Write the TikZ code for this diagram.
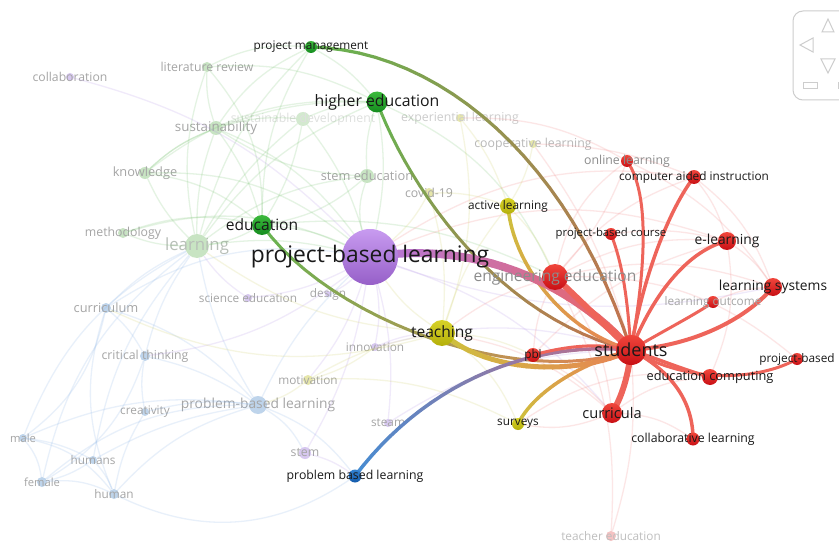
\documentclass[tikz,border=0pt]{standalone}
\usepackage{fontspec}
\setmainfont{Open Sans}
\usetikzlibrary{calc}
\definecolor{cRedL}{RGB}{240,70,60}\definecolor{cRedD}{RGB}{200,15,20}
\definecolor{cGrnL}{RGB}{60,185,60}\definecolor{cGrnD}{RGB}{20,140,30}
\definecolor{cYelL}{RGB}{215,210,40}\definecolor{cYelD}{RGB}{180,175,10}
\definecolor{cPurL}{RGB}{200,155,240}\definecolor{cPurD}{RGB}{150,95,200}
\definecolor{cBluL}{RGB}{50,130,210}\definecolor{cBluD}{RGB}{20,90,170}
\definecolor{eRed}{RGB}{238,100,90}\definecolor{eGrn}{RGB}{100,180,80}
\definecolor{eYel}{RGB}{205,195,60}\definecolor{eOrg}{RGB}{232,130,85}
\definecolor{eBrn}{RGB}{195,115,80}\definecolor{ePur}{RGB}{180,120,220}
\definecolor{eBlu}{RGB}{70,140,210}\definecolor{eMau}{RGB}{190,110,140}
\definecolor{fGn}{RGB}{200,228,195}\definecolor{fBn}{RGB}{190,212,235}
\definecolor{fPn}{RGB}{215,200,240}\definecolor{fYn}{RGB}{230,230,170}
\definecolor{fRn}{RGB}{245,195,195}
\definecolor{fGe}{RGB}{110,190,100}\definecolor{fBe}{RGB}{130,175,230}
\definecolor{fPe}{RGB}{175,140,230}\definecolor{fYe}{RGB}{205,205,90}
\definecolor{fRe}{RGB}{240,120,120}
\definecolor{txtD}{RGB}{25,25,25}\definecolor{txtF}{RGB}{165,165,165}
\definecolor{txtE}{RGB}{140,140,140}\definecolor{wid}{RGB}{205,205,205}
\tikzset{
  dot/.style={circle, inner sep=0pt, draw=none, minimum size=#1},
  L/.style={font=\fontsize{#1}{#1}\selectfont, text=txtD, inner sep=0pt},
  F/.style={font=\fontsize{#1}{#1}\selectfont, text=txtF, inner sep=0pt},
  faint/.style={line width=1.3, opacity=0.18},
  redge/.style={line width=#1, color=eRed, line cap=round},
  widg/.style={draw=wid, line width=1}
}
\newcommand\gradedge[7]{%
  \path (#1.center) .. controls #2 and #3 .. (#4.center)
    \foreach \gi [evaluate=\gi as \gt using \gi/24] in {0,...,24}{ node[coordinate,pos=\gt] (gp\gi) {} };
  \foreach \gi [evaluate=\gi as \gj using int(\gi+1), evaluate=\gi as \gp using int(100-100*\gi/23)] in {0,...,23}{%
    \draw[line width=#7, line cap=round, color=#5!\gp!#6] (gp\gi) -- (gp\gj);}%
}
\newcommand\fe[4]{\draw[faint,#3] (#1) to[bend left=#4] (#2);}
\begin{document}
\begin{tikzpicture}[x=1pt,y=-1pt]
\useasboundingbox (0,0) rectangle (839,543);
\fill[white] (0,0) rectangle (839,543);

% ---------- faded nodes ----------
\node[dot=8, fill=fPn, label={[F=12.2]center:collaboration}] (nColl) at (70,77) {};
\node[dot=10, fill=fGn, label={[F=12.3]center:literature review}] (nLR) at (207,67) {};
\node[dot=14, fill=fGn, label={[F=13.4]center:sustainability}] (nSus) at (216,128) {};
\node[dot=14, fill=fGn!80, label={[F=12.3,text=green!8!black!13]center:sustainable development}] (nSD) at (303,119) {};
\node[dot=8, fill=fYn, label={[F=12.3,text=black!20]center:experiential learning}] (nExp) at (460,118) {};
\node[dot=8, fill=fYn, label={[F=12.3,text=black!28]center:cooperative learning}] (nCoop) at (533,144) {};
\node[dot=12, fill=fGn, label={[F=12.8]center:knowledge}] (nKnow) at (145,173) {};
\node[dot=14, fill=fGn, label={[F=12.8]center:stem education}] (nStemE) at (367,176) {};
\node[dot=10, fill=fYn, label={[F=12.3]center:covid-19}] (nCovid) at (429,193) {};
\node[dot=10, fill=fGn, label={[F=12.3]center:methodology}] (nMeth) at (123,233) {};
\node[dot=24, fill=fGn, label={[F=16.8,text=green!10!black!28]center:learning}] (nLearn) at (197,246) {};
\node[dot=8, fill=fPn, label={[F=11.8]center:science education}] (nSci) at (248,298) {};
\node[dot=6, fill=fPn, label={[F=11.8]center:design}] (nDes) at (328,294) {};
\node[dot=10, fill=fBn, label={[F=12.8]center:curriculum}] (nCurric) at (106,308) {};
\node[dot=8, fill=fPn, label={[F=11.8]center:innovation}] (nInno) at (375,347) {};
\node[dot=10, fill=fBn, label={[F=12.3]center:critical thinking}] (nCrit) at (145,356) {};
\node[dot=10, fill=fYn, label={[F=11.8]center:motivation}] (nMot) at (308,380) {};
\node[dot=18, fill=fBn, label={[F=13.8]center:problem-based learning}] (nPrbB) at (258,405) {};
\node[dot=8, fill=fBn, label={[F=11.8]center:creativity}] (nCrea) at (145,412) {};
\node[dot=8, fill=fPn, label={[F=11.8]center:steam}] (nSteam) at (388,423) {};
\node[dot=12, fill=fPn, label={[F=12.3]center:stem}] (nStem) at (305,453) {};
\node[dot=8, fill=fBn, label={[F=11.2]center:male}] (nMale) at (23,438) {};
\node[dot=8, fill=fBn, label={[F=11.8]center:humans}] (nHumans) at (93,460) {};
\node[dot=10, fill=fBn, label={[F=11.2]center:female}] (nFemale) at (42,482) {};
\node[dot=10, fill=fBn, label={[F=11.8]center:human}] (nHuman) at (114,494) {};
\node[dot=10, fill=fRn, label={[F=11.8,text=black!25]center:teacher education}] (nTE) at (611,536) {};

% ---------- main node positions (drawn later) ----------
\node[dot=56] (nPBL) at (370,257) {};
\node[dot=30] (nStud) at (631,350) {};
\node[dot=26] (nEng) at (555,277) {};
\node[dot=26] (nTeach) at (442,333) {};
\node[dot=20] (nEdu) at (262,225) {};
\node[dot=21] (nHigh) at (377,102) {};
\node[dot=12] (nPM) at (311,47) {};
\node[dot=16] (nAct) at (508,206) {};
\node[dot=14] (nPbl) at (533,355) {};
\node[dot=12] (nSurv) at (518,424) {};
\node[dot=13] (nProbL) at (355,476) {};
\node[dot=20] (nCurr) at (612,413) {};
\node[dot=13] (nCollab) at (693,439) {};
\node[dot=16] (nEduComp) at (710,377) {};
\node[dot=12] (nPB) at (797,359) {};
\node[dot=18] (nLS) at (773,287) {};
\node[dot=12] (nLO) at (713,302) {};
\node[dot=18] (nEL) at (727,241) {};
\node[dot=12] (nPBC) at (611,234) {};
\node[dot=14] (nCAI) at (694,177) {};
\node[dot=12] (nOL) at (627,161) {};

% ---------- faint edges ----------
\fe{nLearn}{nHigh}{fGe}{15}\fe{nLearn}{nEdu}{fGe}{-10}\fe{nLearn}{nSus}{fGe}{10}
\fe{nLearn}{nKnow}{fGe}{10}\fe{nLearn}{nMeth}{fGe}{10}\fe{nLearn}{nLR}{fGe}{15}
\fe{nLearn}{nPM}{fGe}{15}\fe{nLearn}{nStemE}{fGe}{15}\fe{nLearn}{nPBL}{fGe}{10}
\fe{nLearn}{nSD}{fGe}{10}\fe{nSus}{nHigh}{fGe}{10}\fe{nSus}{nSD}{fGe}{10}
\fe{nSus}{nPM}{fGe}{15}\fe{nSus}{nEdu}{fGe}{10}\fe{nSus}{nKnow}{fGe}{-10}
\fe{nLR}{nPM}{fGe}{15}\fe{nLR}{nSus}{fGe}{-10}\fe{nLR}{nHigh}{fGe}{15}
\fe{nKnow}{nEdu}{fGe}{15}\fe{nKnow}{nHigh}{fGe}{20}\fe{nMeth}{nEdu}{fGe}{15}
\fe{nStemE}{nHigh}{fGe}{10}\fe{nStemE}{nEdu}{fGe}{15}\fe{nPM}{nHigh}{fGe}{10}
\fe{nPM}{nEdu}{fGe}{-15}\fe{nEdu}{nPBL}{fGe}{10}\fe{nHigh}{nPBL}{fGe}{10}
\fe{nSD}{nHigh}{fGe}{10}\fe{nSD}{nEdu}{fGe}{10}\fe{nSD}{nPBL}{fGe}{10}
\fe{nKnow}{nPBL}{fGe}{20}\fe{nMeth}{nPBL}{fGe}{20}\fe{nLR}{nEdu}{fGe}{20}
\fe{nSus}{nPBL}{fGe}{15}\fe{nKnow}{nSus}{fGe}{10}\fe{nHigh}{nEng}{fGe}{20}
\fe{nEdu}{nEng}{fGe}{15}\fe{nStemE}{nPBL}{fGe}{-15}\fe{nSus}{nStemE}{fGe}{-15}
\fe{nMale}{nHumans}{fBe}{10}\fe{nMale}{nFemale}{fBe}{15}\fe{nMale}{nHuman}{fBe}{20}
\fe{nHumans}{nFemale}{fBe}{10}\fe{nHumans}{nHuman}{fBe}{10}\fe{nFemale}{nHuman}{fBe}{15}
\fe{nMale}{nPrbB}{fBe}{15}\fe{nHumans}{nPrbB}{fBe}{10}\fe{nHuman}{nPrbB}{fBe}{15}
\fe{nHuman}{nCrea}{fBe}{10}\fe{nCrit}{nPrbB}{fBe}{10}\fe{nCurric}{nCrit}{fBe}{10}
\fe{nCurric}{nPrbB}{fBe}{15}\fe{nCurric}{nLearn}{fBe}{10}\fe{nCrea}{nCrit}{fBe}{10}
\fe{nCrea}{nPrbB}{fBe}{10}\fe{nHuman}{nProbL}{fBe}{-30}\fe{nPrbB}{nStem}{fBe}{15}
\fe{nPrbB}{nPBL}{fBe}{10}\fe{nMale}{nLearn}{fBe}{20}\fe{nFemale}{nLearn}{fBe}{20}
\fe{nHumans}{nLearn}{fBe}{15}\fe{nFemale}{nPrbB}{fBe}{20}\fe{nCurric}{nMale}{fBe}{20}
\fe{nCrit}{nLearn}{fBe}{10}\fe{nPrbB}{nLearn}{fBe}{10}\fe{nHuman}{nCurric}{fBe}{20}
\fe{nCrit}{nFemale}{fBe}{20}\fe{nPrbB}{nProbL}{fBe}{15}\fe{nCurric}{nPBL}{fBe}{20}
\fe{nColl}{nPBL}{fPe}{15}\fe{nPBL}{nInno}{fPe}{10}\fe{nPBL}{nDes}{fPe}{10}
\fe{nPBL}{nSci}{fPe}{10}\fe{nPBL}{nSteam}{fPe}{10}\fe{nPBL}{nStem}{fPe}{10}
\fe{nInno}{nTeach}{fPe}{10}\fe{nStem}{nProbL}{fPe}{10}\fe{nSteam}{nStud}{fPe}{15}
\fe{nInno}{nStud}{fPe}{15}\fe{nSci}{nLearn}{fPe}{10}\fe{nPBL}{nCrit}{fPe}{15}
\fe{nPBL}{nMot}{fPe}{10}\fe{nPBL}{nCurr}{fPe}{15}\fe{nPBL}{nLS}{fPe}{-15}
\fe{nStud}{nTE}{fRe}{10}\fe{nEng}{nTE}{fRe}{15}\fe{nEng}{nEL}{fRe}{15}
\fe{nEng}{nLS}{fRe}{15}\fe{nEng}{nCAI}{fRe}{15}\fe{nOL}{nLS}{fRe}{15}
\fe{nEL}{nLS}{fRe}{10}\fe{nCAI}{nEL}{fRe}{10}\fe{nCurr}{nEduComp}{fRe}{15}
\fe{nCurr}{nSurv}{fRe}{15}\fe{nPbl}{nEng}{fRe}{10}\fe{nPbl}{nCurr}{fRe}{10}
\fe{nPbl}{nEL}{fRe}{15}\fe{nCoop}{nStud}{fRe}{10}\fe{nOL}{nEng}{fRe}{10}
\fe{nCAI}{nLS}{fRe}{15}\fe{nEL}{nEduComp}{fRe}{15}\fe{nLO}{nLS}{fRe}{10}
\fe{nCurr}{nCollab}{fRe}{15}\fe{nEng}{nCurr}{fRe}{15}\fe{nTeach}{nEng}{fRe}{10}
\fe{nEng}{nOL}{fRe}{20}\fe{nCoop}{nCAI}{fRe}{10}\fe{nExp}{nOL}{fRe}{15}
\fe{nPBL}{nEL}{fRe}{20}\fe{nPBL}{nCAI}{fRe}{20}\fe{nCurr}{nTeach}{fRe}{-15}
\fe{nSurv}{nEduComp}{fRe}{20}\fe{nPBC}{nEL}{fRe}{10}\fe{nEng}{nPB}{fRe}{20}
\fe{nTeach}{nAct}{fYe}{10}\fe{nTeach}{nPbl}{fYe}{10}\fe{nMot}{nTeach}{fYe}{10}
\fe{nCovid}{nAct}{fYe}{10}\fe{nExp}{nAct}{fYe}{10}\fe{nCoop}{nAct}{fYe}{10}
\fe{nCovid}{nTeach}{fYe}{10}\fe{nMot}{nSurv}{fYe}{15}\fe{nTeach}{nSurv}{fYe}{15}
\fe{nExp}{nTeach}{fYe}{15}\fe{nAct}{nEng}{fYe}{10}\fe{nMot}{nPrbB}{fYe}{10}
\fe{nCovid}{nPBL}{fYe}{10}\fe{nInno}{nMot}{fYe}{10}\fe{nTeach}{nPBL}{fYe}{10}
\fe{nTeach}{nLearn}{fYe}{15}\fe{nTeach}{nCurric}{fYe}{20}

% ---------- highlighted edges ----------
\gradedge{nPM}{(440,50)}{(570,160)}{nStud}{eGrn}{eBrn}{3.2}
\gradedge{nHigh}{(410,190)}{(500,320)}{nStud}{eGrn}{eBrn}{3}
\gradedge{nEdu}{(330,320)}{(520,390)}{nStud}{eGrn}{eOrg}{3}
\gradedge{nAct}{(512,260)}{(560,330)}{nStud}{eYel}{eOrg}{3.5}
\gradedge{nSurv}{(532,395)}{(575,365)}{nStud}{eYel}{eOrg}{3.5}
\gradedge{nTeach}{(490,375)}{(580,375)}{nStud}{eYel}{eOrg}{5}
\gradedge{nProbL}{(420,390)}{(520,340)}{nStud}{eBlu}{eMau}{3.5}
\draw[redge=3] (nPbl.center) .. controls (570,345) and (600,343) .. (nStud.center);
\gradedge{nPBL}{(470,240)}{(570,280)}{nStud}{ePur}{eRed}{8}
\draw[redge=6] (nEng.center) .. controls (580,300) and (610,330) .. (nStud.center);
\draw[redge=3] (nPBC.center) .. controls (625,270) and (628,310) .. (nStud.center);
\draw[redge=3] (nOL.center) .. controls (655,200) and (640,300) .. (nStud.center);
\draw[redge=3.5] (nCAI.center) .. controls (665,215) and (640,290) .. (nStud.center);
\draw[redge=3.5] (nStud.center) .. controls (655,290) and (690,250) .. (nEL.center);
\draw[redge=4] (nStud.center) .. controls (700,345) and (750,315) .. (nLS.center);
\draw[redge=3] (nStud.center) .. controls (665,330) and (700,312) .. (nLO.center);
\draw[redge=3.5] (nStud.center) .. controls (660,360) and (690,372) .. (nEduComp.center);
\draw[redge=3] (nStud.center) .. controls (690,385) and (760,380) .. (nPB.center);
\draw[redge=3.5] (nStud.center) .. controls (670,370) and (693,400) .. (nCollab.center);
\draw[redge=6] (nStud.center) .. controls (628,380) and (620,400) .. (nCurr.center);

% ---------- main nodes ----------
\node[dot=12, top color=cGrnL, bottom color=cGrnD, label={[L=11.8]center:project management}] at (nPM) {};
\node[dot=21, top color=cGrnL, bottom color=cGrnD, label={[L=15.8]center:higher education}] at (nHigh) {};
\node[dot=20, top color=cGrnL, bottom color=cGrnD, label={[L=15.6]center:education}] at (nEdu) {};
\node[dot=16, top color=cYelL, bottom color=cYelD, label={[L=11.8]center:active learning}] at (nAct) {};
\node[dot=56, top color=cPurL, bottom color=cPurD, label={[L=22.8]center:project-based learning}] at (nPBL) {};
\node[dot=26, top color=cRedL, bottom color=cRedD, label={[L=15.6,text=txtE]center:engineering education}] at (nEng) {};
\node[dot=26, top color=cYelL, bottom color=cYelD, label={[L=15.6]center:teaching}] at (nTeach) {};
\node[dot=14, top color=cRedL, bottom color=cRedD, label={[L=11.8]center:pbl}] at (nPbl) {};
\node[dot=12, top color=cYelL, bottom color=cYelD, label={[L=11.8]center:surveys}] at (nSurv) {};
\node[dot=13, top color=cBluL, bottom color=cBluD, label={[L=12.3]center:problem based learning}] at (nProbL) {};
\node[dot=20, top color=cRedL, bottom color=cRedD, label={[L=14.6]center:curricula}] at (nCurr) {};
\node[dot=13, top color=cRedL, bottom color=cRedD, label={[L=12.3]center:collaborative learning}] at (nCollab) {};
\node[dot=12, top color=cRedL, bottom color=cRedD, label={[L=11.8]center:project-based}] at (nPB) {};
\node[dot=16, top color=cRedL, bottom color=cRedD, label={[L=12.8]center:education computing}] at (nEduComp) {};
\node[dot=12, top color=cRedL, bottom color=cRedD, label={[L=11.8,text=txtF]center:learning outcome}] at (nLO) {};
\node[dot=18, top color=cRedL, bottom color=cRedD, label={[L=13.8]center:learning systems}] at (nLS) {};
\node[dot=18, top color=cRedL, bottom color=cRedD, label={[L=13.8]center:e-learning}] at (nEL) {};
\node[dot=12, top color=cRedL, bottom color=cRedD, label={[L=11.3]center:project-based course}] at (nPBC) {};
\node[dot=12, top color=cRedL, bottom color=cRedD, label={[L=12.3,text=txtE]center:online learning}] at (nOL) {};
\node[dot=14, top color=cRedL, bottom color=cRedD, label={[L=11.8]center:computer aided instruction}] at (nCAI) {};
\node[dot=30, top color=cRedL, bottom color=cRedD, label={[L=18]center:students}] at (nStud) {};

% ---------- navigation widget ----------
\begin{scope}
\clip (0,0) rectangle (839,543);
\draw[widg, rounded corners=10] (793,11) rectangle (880,100);
\draw[widg] (822,32) -- (828,19) -- (834,32) -- cycle;
\draw[widg] (813,38) -- (800,45) -- (813,52) -- cycle;
\draw[widg] (821,59) -- (828,73) -- (835,59) -- cycle;
\draw[widg] (803,83) rectangle (817,89);
\draw[widg] (838,83) rectangle (850,89);
\end{scope}
\end{tikzpicture}
\end{document}
